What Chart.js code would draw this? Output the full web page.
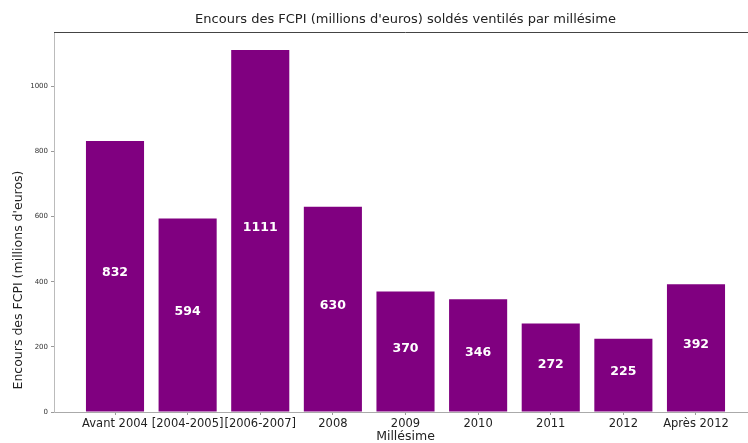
<!DOCTYPE html>
<html>
<head>
    <title>Encours des FCPI</title>
    <meta charset="UTF-8">
    <style>
        body { margin: 0; background: #fff; }
        #wrap { width: 748px; height: 443px; overflow: hidden; position: relative; }
    </style>
</head>
<body>
<div id="wrap"><canvas id="myChart" width="780" height="450"></canvas></div>
<script src="https://cdn.jsdelivr.net/npm/chart.js@4/dist/chart.umd.min.js"></script>
<script>
    // data
    var categories = ['Avant 2004', '[2004-2005]', '[2006-2007]', '2008', '2009', '2010', '2011', '2012', 'Après 2012'];
    var encours = [832, 594, 1111, 630, 370, 346, 272, 225, 392];
    var yTicks = [0, 200, 400, 600, 800, 1000];

    var points = [];
    for (let i = 0; i < categories.length; i++) {
        points.push({x: i, y: encours[i]});
    }

    var barLabels = {
        id: 'barLabels',
        afterDatasetsDraw: function (chart) {
            const ctx = chart.ctx;
            ctx.save();
            ctx.fillStyle = '#ffffff';
            ctx.font = 'bold 12.5px "DejaVu Sans"';
            ctx.textAlign = 'center';
            ctx.textBaseline = 'middle';
            chart.getDatasetMeta(0).data.forEach(function (bar, i) {
                ctx.fillText(String(encours[i]), bar.x, (bar.y + bar.base) / 2 - 3);
            });
            ctx.restore();
        }
    };

    var frame = {
        id: 'frame',
        afterDraw: function (chart) {
            const ctx = chart.ctx;
            const a = chart.chartArea;
            ctx.save();
            // top spine
            ctx.strokeStyle = '#444';
            ctx.lineWidth = 1;
            ctx.beginPath();
            ctx.moveTo(a.left, a.top + 0.5);
            ctx.lineTo(a.right, a.top + 0.5);
            ctx.stroke();
            // y axis title
            ctx.fillStyle = '#222';
            ctx.font = '12.5px "DejaVu Sans"';
            ctx.textAlign = 'center';
            ctx.textBaseline = 'middle';
            ctx.translate(19, 280);
            ctx.rotate(-Math.PI / 2);
            ctx.fillText("Encours des FCPI (millions d'euros)", 0, 0);
            ctx.restore();
        }
    };

    var ctx = document.getElementById('myChart').getContext('2d');
    var myChart = new Chart(ctx, {
        type: 'bar',
        data: {
            datasets: [{
                data: points,
                backgroundColor: '#800080',
                borderWidth: 0,
                categoryPercentage: 1,
                barPercentage: 0.8
            }]
        },
        options: {
            responsive: false,
            animation: false,
            layout: {padding: {left: 0, right: 23, top: 0, bottom: 0}},
            plugins: {
                legend: {display: false},
                tooltip: {enabled: false},
                title: {
                    display: true,
                    fullSize: false,
                    text: 'Encours des FCPI (millions d\'euros) soldés ventilés par millésime',
                    color: '#222',
                    font: {family: 'DejaVu Sans', size: 13, weight: 'normal'},
                    padding: {top: 12, bottom: 4.4}
                }
            },
            scales: {
                x: {
                    type: 'linear',
                    offset: false,
                    min: -0.84,
                    max: 8.84,
                    afterBuildTicks: function (scale) {
                        scale.ticks = categories.map(function (c, i) { return {value: i}; });
                    },
                    afterFit: function (scale) { scale.height = 38; },
                    ticks: {
                        autoSkip: false,
                        maxRotation: 0,
                        padding: 2,
                        color: '#222',
                        font: {family: 'DejaVu Sans', size: 11.5},
                        callback: function (v) { return categories[v]; }
                    },
                    grid: {offset: false, drawOnChartArea: false, drawTicks: true, tickLength: 3, color: '#999'},
                    border: {color: '#aaa', width: 1},
                    title: {
                        display: true,
                        text: 'Millésime',
                        color: '#222',
                        font: {family: 'DejaVu Sans', size: 12.5},
                        padding: {top: 0, bottom: 5.5}
                    }
                },
                y: {
                    min: 0,
                    max: 1166.55,
                    afterBuildTicks: function (scale) {
                        scale.ticks = yTicks.map(function (t) { return {value: t}; });
                    },
                    afterFit: function (scale) { scale.width = 54; },
                    ticks: {
                        padding: 3,
                        color: '#333',
                        font: {family: 'DejaVu Sans', size: 7},
                        callback: function (v) { return String(v); }
                    },
                    grid: {drawOnChartArea: false, drawTicks: true, tickLength: 3, color: '#999'},
                    border: {color: '#bbb', width: 1}
                }
            }
        },
        plugins: [barLabels, frame]
    });
</script>
</body>
</html>
